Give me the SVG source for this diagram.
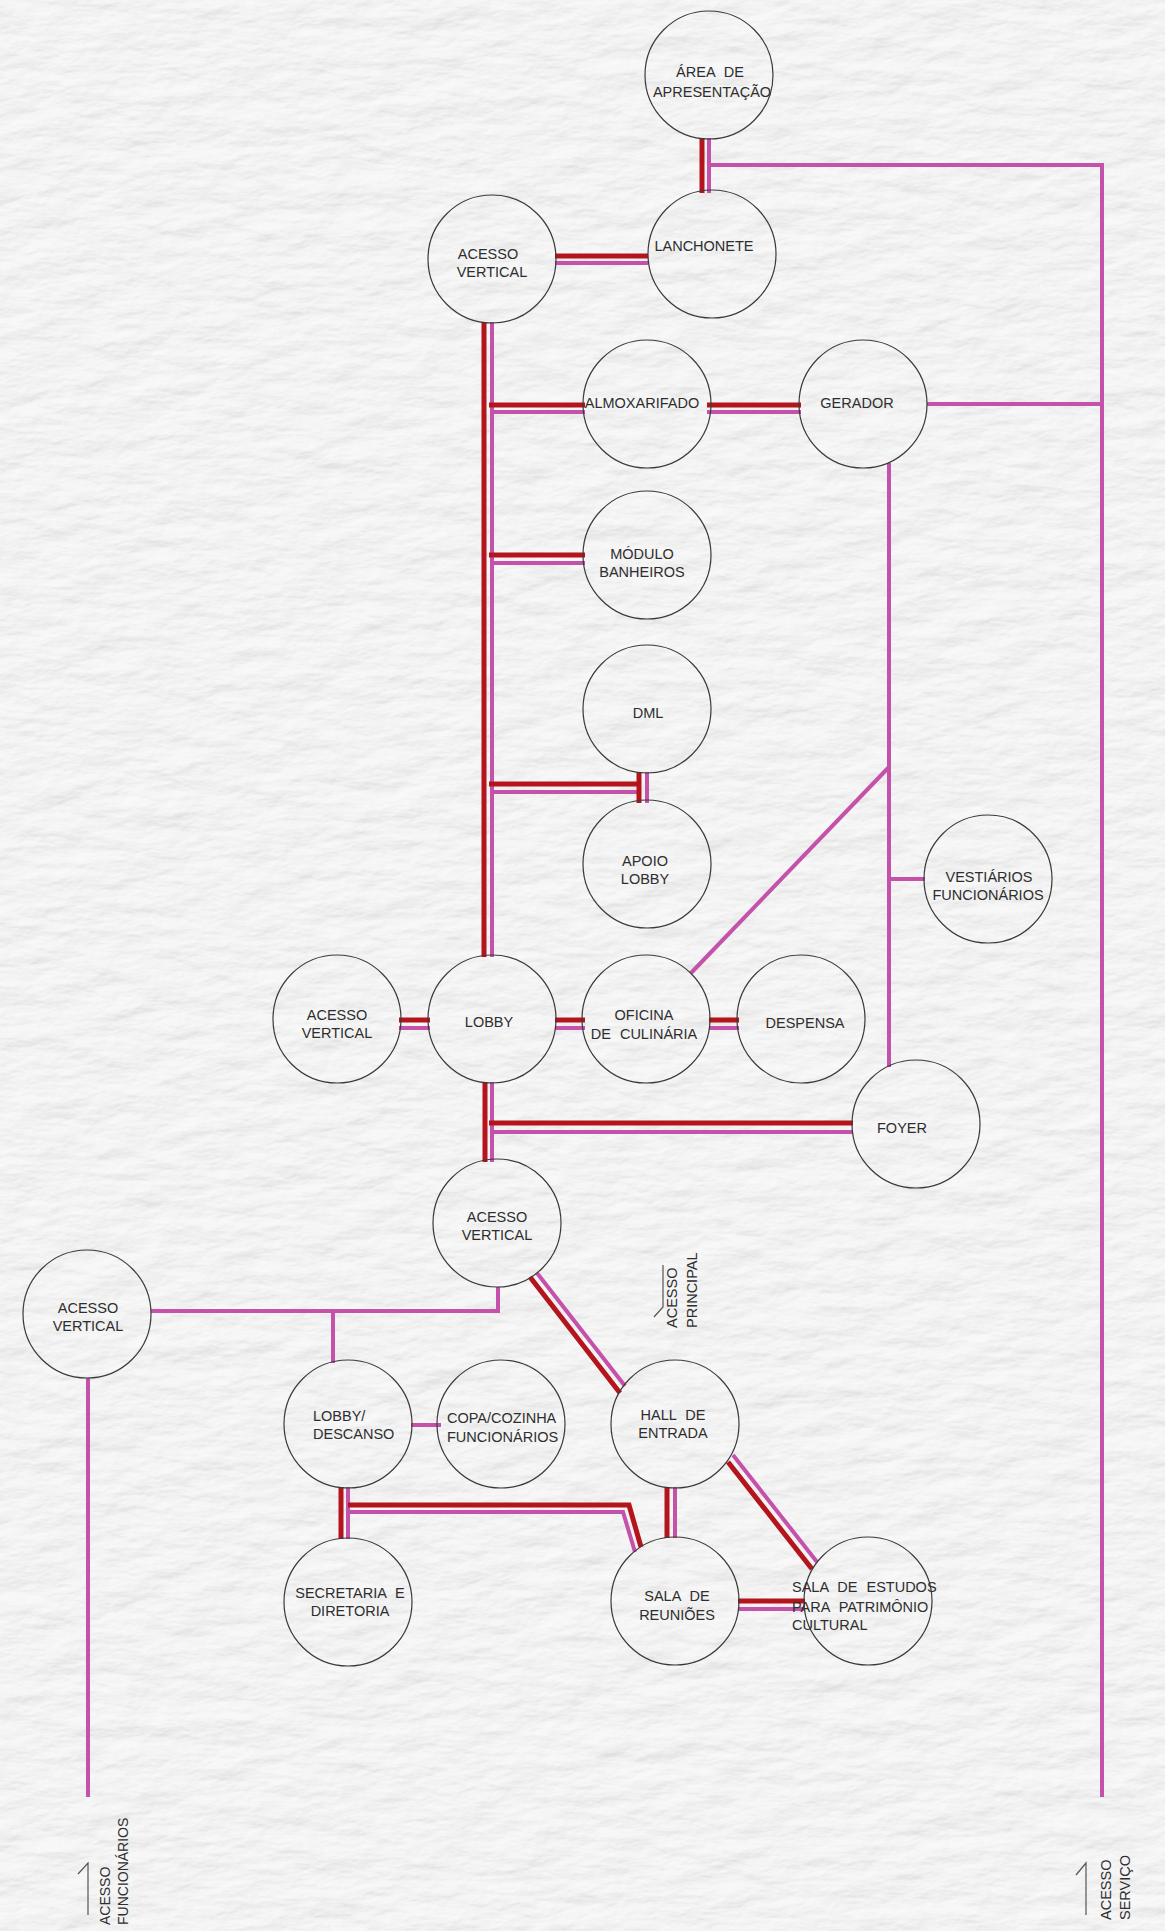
<svg xmlns="http://www.w3.org/2000/svg" width="1165" height="1931" viewBox="0 0 1165 1931">
<defs>
<filter id="paper" x="0" y="0" width="1165" height="1931" filterUnits="userSpaceOnUse">
<feTurbulence type="fractalNoise" baseFrequency="0.018 0.045" numOctaves="5" seed="7" result="n"/>
<feDiffuseLighting in="n" lighting-color="#ffffff" surfaceScale="4" diffuseConstant="1" result="l">
<feDistantLight azimuth="60" elevation="55"/>
</feDiffuseLighting>
<feColorMatrix type="matrix" values="0.32 0 0 0 0.63  0.32 0 0 0 0.63  0.32 0 0 0 0.63  0 0 0 0 1"/>
</filter>
<style>
.node circle{fill:none;stroke:#3a3a3a;stroke-width:1.2}
text{font-family:"Liberation Sans",Arial,sans-serif;font-size:14.5px;fill:#2e2e2e}
.c{text-anchor:middle}
.ws{word-spacing:5px}
.r{fill:none;stroke:#b4141c;stroke-width:5}
.m{fill:none;stroke:#c451aa;stroke-width:4}
.mk{fill:none;stroke:#555;stroke-width:1.2}
</style>
</defs>
<rect x="0" y="0" width="1165" height="1931" fill="#ebebeb" filter="url(#paper)"/>

<g id="connectors">
<line class="r" x1="702" y1="138" x2="702" y2="193"/>
<line class="m" x1="709" y1="138" x2="709" y2="193"/>
<polyline class="m" points="709,165 1102,165 1102,1797"/>
<line class="r" x1="555" y1="256" x2="648" y2="256"/>
<line class="m" x1="555" y1="263" x2="648" y2="263"/>
<line class="r" x1="484" y1="322" x2="484" y2="957"/>
<line class="m" x1="492" y1="322" x2="492" y2="957"/>
<line class="r" x1="489" y1="405" x2="585" y2="405"/>
<line class="m" x1="492" y1="412" x2="585" y2="412"/>
<line class="r" x1="707" y1="405" x2="801" y2="405"/>
<line class="m" x1="707" y1="412" x2="801" y2="412"/>
<line class="m" x1="927" y1="404" x2="1102" y2="404"/>
<line class="r" x1="489" y1="555" x2="585" y2="555"/>
<line class="m" x1="492" y1="563" x2="585" y2="563"/>
<line class="r" x1="489" y1="784" x2="639" y2="784"/>
<line class="m" x1="492" y1="792" x2="639" y2="792"/>
<line class="r" x1="639" y1="772" x2="639" y2="803"/>
<line class="m" x1="647" y1="772" x2="647" y2="803"/>
<line class="m" x1="889" y1="463" x2="889" y2="1067"/>
<line class="m" x1="889" y1="767" x2="691" y2="973"/>
<line class="m" x1="889" y1="879" x2="925" y2="879"/>
<line class="r" x1="399" y1="1020" x2="430" y2="1020"/>
<line class="m" x1="399" y1="1028" x2="430" y2="1028"/>
<line class="r" x1="555" y1="1020" x2="585" y2="1020"/>
<line class="m" x1="555" y1="1028" x2="585" y2="1028"/>
<line class="r" x1="709" y1="1020" x2="739" y2="1020"/>
<line class="m" x1="709" y1="1028" x2="739" y2="1028"/>
<line class="r" x1="485" y1="1082" x2="485" y2="1162"/>
<line class="m" x1="492" y1="1082" x2="492" y2="1162"/>
<line class="r" x1="489" y1="1123" x2="853" y2="1123"/>
<line class="m" x1="492" y1="1132" x2="853" y2="1132"/>
<polyline class="m" points="151,1311 498,1311 498,1287"/>
<line class="m" x1="333" y1="1311" x2="333" y2="1363"/>
<line class="m" x1="88" y1="1378" x2="88" y2="1797"/>
<line class="m" x1="411" y1="1425" x2="441" y2="1425"/>
<line class="r" x1="530" y1="1277" x2="620" y2="1393"/>
<line class="m" x1="537" y1="1273" x2="625" y2="1386"/>
<line class="r" x1="667" y1="1487" x2="667" y2="1538"/>
<line class="m" x1="675" y1="1487" x2="675" y2="1538"/>
<line class="r" x1="728" y1="1462" x2="812" y2="1569"/>
<line class="m" x1="733" y1="1455" x2="817" y2="1562"/>
<line class="r" x1="738" y1="1601" x2="805" y2="1601"/>
<line class="m" x1="738" y1="1609" x2="805" y2="1609"/>
<line class="r" x1="341" y1="1487" x2="341" y2="1539"/>
<line class="m" x1="348" y1="1487" x2="348" y2="1539"/>
<polyline class="r" points="348,1505 629,1505 641,1547"/>
<polyline class="m" points="350,1512 623,1512 635,1552"/>
</g>

<g id="n-area" class="node"><circle cx="709" cy="75" r="64"/><text class="c ws" x="710" y="77">ÁREA DE</text><text class="c" x="712" y="97">APRESENTAÇÃO</text></g>
<g id="n-lanchonete" class="node"><circle cx="712" cy="254" r="64"/><text class="c" x="704" y="251">LANCHONETE</text></g>
<g id="n-av1" class="node"><circle cx="492" cy="259" r="64"/><text class="c" x="488" y="259">ACESSO</text><text class="c" x="492" y="277">VERTICAL</text></g>
<g id="n-almox" class="node"><circle cx="647" cy="404" r="64"/><text class="c" x="642" y="408">ALMOXARIFADO</text></g>
<g id="n-gerador" class="node"><circle cx="863" cy="404" r="64"/><text class="c" x="857" y="408">GERADOR</text></g>
<g id="n-modulo" class="node"><circle cx="647" cy="555" r="64"/><text class="c" x="642" y="559">MÓDULO</text><text class="c" x="642" y="577">BANHEIROS</text></g>
<g id="n-dml" class="node"><circle cx="647" cy="709" r="64"/><text class="c" x="648" y="718">DML</text></g>
<g id="n-apoio" class="node"><circle cx="647" cy="864" r="64"/><text class="c" x="645" y="866">APOIO</text><text class="c" x="645" y="884">LOBBY</text></g>
<g id="n-vestiarios" class="node"><circle cx="988" cy="879" r="64"/><text class="c" x="989" y="882">VESTIÁRIOS</text><text class="c" x="988" y="900">FUNCIONÁRIOS</text></g>
<g id="n-av2" class="node"><circle cx="337" cy="1019" r="64"/><text class="c" x="337" y="1020">ACESSO</text><text class="c" x="337" y="1038">VERTICAL</text></g>
<g id="n-lobby" class="node"><circle cx="492" cy="1019" r="64"/><text class="c" x="489" y="1027">LOBBY</text></g>
<g id="n-oficina" class="node"><circle cx="646" cy="1019" r="64"/><text class="c" x="644" y="1020">OFICINA</text><text class="c ws" x="644" y="1039">DE CULINÁRIA</text></g>
<g id="n-despensa" class="node"><circle cx="801" cy="1019" r="64"/><text class="c" x="805" y="1028">DESPENSA</text></g>
<g id="n-foyer" class="node"><circle cx="916" cy="1124" r="64"/><text class="c" x="902" y="1133">FOYER</text></g>
<g id="n-av3" class="node"><circle cx="497" cy="1223" r="64"/><text class="c" x="497" y="1222">ACESSO</text><text class="c" x="497" y="1240">VERTICAL</text></g>
<g id="n-av4" class="node"><circle cx="87" cy="1314" r="64"/><text class="c" x="88" y="1313">ACESSO</text><text class="c" x="88" y="1331">VERTICAL</text></g>
<g id="n-lobbyd" class="node"><circle cx="348" cy="1424" r="64"/><text x="313" y="1421">LOBBY/</text><text x="313" y="1439">DESCANSO</text></g>
<g id="n-copa" class="node"><circle cx="501" cy="1424" r="64"/><text x="447" y="1423">COPA/COZINHA</text><text x="447" y="1442">FUNCIONÁRIOS</text></g>
<g id="n-hall" class="node"><circle cx="675" cy="1424" r="64"/><text class="c ws" x="673" y="1420">HALL DE</text><text class="c" x="673" y="1438">ENTRADA</text></g>
<g id="n-secretaria" class="node"><circle cx="348" cy="1602" r="64"/><text class="c ws" x="350" y="1598">SECRETARIA E</text><text class="c" x="350" y="1616">DIRETORIA</text></g>
<g id="n-reunioes" class="node"><circle cx="675" cy="1601" r="64"/><text class="c ws" x="677" y="1601">SALA DE</text><text class="c" x="677" y="1620">REUNIÕES</text></g>
<g id="n-estudos" class="node"><circle cx="868" cy="1601" r="64"/><text class="ws" x="792" y="1592">SALA DE ESTUDOS</text><text class="ws" x="792" y="1612">PARA PATRIMÔNIO</text><text x="792" y="1630">CULTURAL</text></g>

<g id="labels">
<polyline class="mk" points="663,1265 663,1307 654,1317"/>
<text transform="translate(677,1328) rotate(-90)">ACESSO</text>
<text transform="translate(697,1328) rotate(-90)">PRINCIPAL</text>
<polyline class="mk" points="78,1874 88,1863 88,1915"/>
<text style="font-size:14px" transform="translate(110,1925) rotate(-90)">ACESSO</text>
<text style="font-size:14px" transform="translate(128,1925) rotate(-90)">FUNCIONÁRIOS</text>
<polyline class="mk" points="1076,1875 1086,1863 1086,1915"/>
<text style="font-size:14.5px" transform="translate(1111,1920) rotate(-90)">ACESSO</text>
<text style="font-size:14.5px" transform="translate(1130,1920) rotate(-90)">SERVIÇO</text>
</g>
</svg>
